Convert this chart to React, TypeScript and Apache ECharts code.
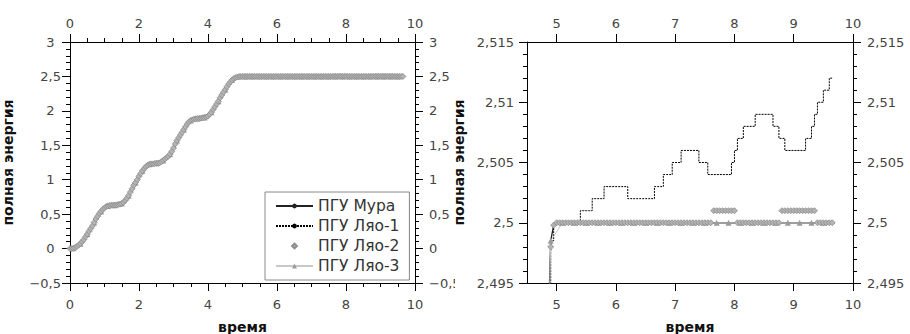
import React, { useEffect, useRef } from "react";
import * as echarts from "echarts";

// time grid (shared by Мура, Ляо-1, Ляо-2)
const time = [
  0, 0.05, 0.1, 0.15, 0.2, 0.25, 0.3, 0.35, 0.4, 0.45, 0.5, 0.55, 0.6, 0.65, 0.7, 0.75, 0.8, 0.85, 0.9, 0.95,
  1, 1.05, 1.1, 1.15, 1.2, 1.25, 1.3, 1.35, 1.4, 1.45, 1.5, 1.55, 1.6, 1.65, 1.7, 1.75, 1.8, 1.85, 1.9, 1.95,
  2, 2.05, 2.1, 2.15, 2.2, 2.25, 2.3, 2.35, 2.4, 2.45, 2.5, 2.55, 2.6, 2.65, 2.7, 2.75, 2.8, 2.85, 2.9, 2.95,
  3, 3.05, 3.1, 3.15, 3.2, 3.25, 3.3, 3.35, 3.4, 3.45, 3.5, 3.55, 3.6, 3.65, 3.7, 3.75, 3.8, 3.85, 3.9, 3.95,
  4, 4.05, 4.1, 4.15, 4.2, 4.25, 4.3, 4.35, 4.4, 4.45, 4.5, 4.55, 4.6, 4.65, 4.7, 4.75, 4.8, 4.85, 4.9, 4.95,
  5, 5.05, 5.1, 5.15, 5.2, 5.25, 5.3, 5.35, 5.4, 5.45, 5.5, 5.55, 5.6, 5.65, 5.7, 5.75, 5.8, 5.85, 5.9, 5.95,
  6, 6.05, 6.1, 6.15, 6.2, 6.25, 6.3, 6.35, 6.4, 6.45, 6.5, 6.55, 6.6, 6.65, 6.7, 6.75, 6.8, 6.85, 6.9, 6.95,
  7, 7.05, 7.1, 7.15, 7.2, 7.25, 7.3, 7.35, 7.4, 7.45, 7.5, 7.55, 7.6, 7.65, 7.7, 7.75, 7.8, 7.85, 7.9, 7.95,
  8, 8.05, 8.1, 8.15, 8.2, 8.25, 8.3, 8.35, 8.4, 8.45, 8.5, 8.55, 8.6, 8.65, 8.7, 8.75, 8.8, 8.85, 8.9, 8.95,
  9, 9.05, 9.1, 9.15, 9.2, 9.25, 9.3, 9.35, 9.4, 9.45, 9.5, 9.55, 9.6, 9.65,
];

// rising part (t = 0 … 4.95), common to all models
const rise = [
  0, 0, 0.005, 0.015, 0.03, 0.05, 0.07, 0.1, 0.13, 0.17, 0.21, 0.25, 0.29, 0.33, 0.38, 0.43, 0.47, 0.51, 0.54, 0.57,
  0.59, 0.61, 0.62, 0.625, 0.63, 0.63, 0.63, 0.635, 0.64, 0.645, 0.655, 0.67, 0.7, 0.73, 0.77, 0.82, 0.87, 0.92, 0.96, 1.0,
  1.05, 1.09, 1.13, 1.16, 1.19, 1.21, 1.225, 1.23, 1.23, 1.235, 1.24, 1.24, 1.245, 1.26, 1.28, 1.3, 1.32, 1.34, 1.37, 1.41,
  1.46, 1.52, 1.57, 1.61, 1.65, 1.69, 1.73, 1.77, 1.81, 1.84, 1.86, 1.87, 1.88, 1.885, 1.89, 1.89, 1.895, 1.9, 1.905, 1.91,
  1.925, 1.95, 1.98, 2.02, 2.06, 2.1, 2.14, 2.19, 2.23, 2.27, 2.31, 2.35, 2.39, 2.42, 2.45, 2.47, 2.482, 2.49, 2.4985, 2.4998,
];

// t = 5 … 9.65
const muraTail = [
  2.5, 2.5, 2.5, 2.5, 2.5, 2.5, 2.5, 2.5, 2.5, 2.5, 2.5, 2.5, 2.5, 2.5, 2.5, 2.5, 2.5, 2.5, 2.5, 2.5,
  2.5, 2.5, 2.5, 2.5, 2.5, 2.5, 2.5, 2.5, 2.5, 2.5, 2.5, 2.5, 2.5, 2.5, 2.5, 2.5, 2.5, 2.5, 2.5, 2.5,
  2.5, 2.5, 2.5, 2.5, 2.5, 2.5, 2.5, 2.5, 2.5, 2.5, 2.5, 2.5, 2.5, 2.5, 2.5, 2.5, 2.5, 2.5, 2.5, 2.5,
  2.5, 2.5, 2.5, 2.5, 2.5, 2.5, 2.5, 2.5, 2.5, 2.5, 2.5, 2.5, 2.5, 2.5, 2.5, 2.5, 2.5, 2.5, 2.5, 2.5,
  2.5, 2.5, 2.5, 2.5, 2.5, 2.5, 2.5, 2.5, 2.5, 2.5, 2.5, 2.5, 2.5, 2.5,
];
const lyao1Tail = [
  2.5, 2.5, 2.5, 2.5, 2.5, 2.5, 2.5, 2.5,
  2.501, 2.501, 2.501, 2.501,
  2.502, 2.502, 2.502, 2.502,
  2.503, 2.503, 2.503, 2.503, 2.503, 2.503, 2.503, 2.503,
  2.502, 2.502, 2.502, 2.502, 2.502, 2.502, 2.502, 2.502, 2.502,
  2.503, 2.503, 2.503,
  2.504, 2.504, 2.504,
  2.505, 2.505, 2.505,
  2.506, 2.506, 2.506, 2.506, 2.506, 2.506,
  2.505, 2.505, 2.505,
  2.504, 2.504, 2.504, 2.504, 2.504, 2.504, 2.504, 2.504,
  2.505,
  2.506,
  2.507, 2.507,
  2.508, 2.508, 2.508, 2.508,
  2.509, 2.509, 2.509, 2.509, 2.509, 2.509,
  2.508, 2.508,
  2.507, 2.507,
  2.506, 2.506, 2.506, 2.506, 2.506, 2.506, 2.506,
  2.507, 2.507,
  2.508,
  2.509,
  2.51, 2.51,
  2.511, 2.511,
  2.512, 2.512,
];
const lyao2Tail = [
  2.5, 2.5, 2.5, 2.5, 2.5, 2.5, 2.5, 2.5, 2.5, 2.5, 2.5, 2.5, 2.5, 2.5, 2.5, 2.5, 2.5, 2.5, 2.5, 2.5,
  2.5, 2.5, 2.5, 2.5, 2.5, 2.5, 2.5, 2.5, 2.5, 2.5, 2.5, 2.5, 2.5, 2.5, 2.5, 2.5, 2.5, 2.5, 2.5, 2.5,
  2.5, 2.5, 2.5, 2.5, 2.5, 2.5, 2.5, 2.5, 2.5, 2.5, 2.5, 2.5, 2.5,
  2.501, 2.501, 2.501, 2.501, 2.501, 2.501, 2.501, 2.501,
  2.5, 2.5, 2.5, 2.5, 2.5, 2.5, 2.5, 2.5, 2.5, 2.5, 2.5, 2.5, 2.5, 2.5, 2.5,
  2.501, 2.501, 2.501, 2.501, 2.501, 2.501, 2.501, 2.501, 2.501, 2.501, 2.501, 2.501,
  2.5, 2.5, 2.5, 2.5, 2.5, 2.5,
];
const lyao2Rise = [
  0, 0, 0.005, 0.015, 0.03, 0.05, 0.07, 0.1, 0.13, 0.17, 0.21, 0.25, 0.29, 0.33, 0.38, 0.43, 0.47, 0.51, 0.54, 0.57,
  0.59, 0.61, 0.62, 0.625, 0.63, 0.63, 0.63, 0.635, 0.64, 0.645, 0.655, 0.67, 0.7, 0.73, 0.77, 0.82, 0.87, 0.92, 0.96, 1.0,
  1.05, 1.09, 1.13, 1.16, 1.19, 1.21, 1.225, 1.23, 1.23, 1.235, 1.24, 1.24, 1.245, 1.26, 1.28, 1.3, 1.32, 1.34, 1.37, 1.41,
  1.46, 1.52, 1.57, 1.61, 1.65, 1.69, 1.73, 1.77, 1.81, 1.84, 1.86, 1.87, 1.88, 1.885, 1.89, 1.89, 1.895, 1.9, 1.905, 1.91,
  1.925, 1.95, 1.98, 2.02, 2.06, 2.1, 2.14, 2.19, 2.23, 2.27, 2.31, 2.35, 2.39, 2.42, 2.45, 2.47, 2.482, 2.49, 2.498, 2.4998,
];
const mura = [...rise, ...muraTail];
const lyao1 = [...rise, ...lyao1Tail];
const lyao2 = [...lyao2Rise, ...lyao2Tail];

// Ляо-3 has its own, coarser time grid
const time3 = [
  0.1, 0.3, 0.5, 0.7, 0.9, 1.1, 1.3, 1.5, 1.7, 1.9, 2.1, 2.3, 2.5, 2.7, 2.9, 3.1, 3.3, 3.5, 3.7, 3.9, 4.1, 4.3, 4.5, 4.7, 4.9,
  5.1, 5.3, 5.5, 5.7, 5.9, 6.1, 6.3, 6.5, 6.7, 6.9, 7.1, 7.3, 7.5, 7.7, 7.9, 8.1, 8.3, 8.5, 8.7, 8.9, 9.1, 9.3, 9.5,
];
const lyao3 = [
  0.005, 0.07, 0.21, 0.38, 0.54, 0.62, 0.63, 0.655, 0.77, 0.96, 1.13, 1.225, 1.24, 1.28, 1.37, 1.57, 1.73, 1.86, 1.89, 1.905, 1.98, 2.14, 2.31, 2.45, 2.4985,
  2.5, 2.5, 2.5, 2.5, 2.5, 2.5, 2.5, 2.5, 2.5, 2.5, 2.5, 2.5, 2.5, 2.5, 2.5, 2.5, 2.5, 2.5, 2.5, 2.5, 2.5, 2.5, 2.5,
];

const seriesNames = ["ПГУ Мура", "ПГУ Ляо-1", "ПГУ Ляо-2", "ПГУ Ляо-3"];
const xTitle = "время";
const yTitle = "полная энергия";

// right panel ticks
const rightXLabels = [5, 6, 7, 8, 9, 10];
const RIGHT_Y_MIN = 2.495;
const RIGHT_Y_MAX = 2.515;

const FONT = "DejaVu Sans";
const LABEL_COLOR = "#444";
const INK = "#000";

function fmt(v: number): string {
  let s = String(+v.toFixed(4)).replace(".", ",");
  if (v < 0) s = "\u2212" + s.slice(1);
  return s;
}
function fmtLeft(v: number): string {
  const s = fmt(v);
  return Number.isInteger(+v.toFixed(4)) ? s + "\u2002" : s;
}

const mkLine = () => ({ show: true, onZero: false, lineStyle: { color: INK, width: 1 } });
const mkTick = (len: number, custom?: number[]) => {
  const t: any = { show: true, length: len, lineStyle: { color: INK, width: 1 } };
  if (custom) t.customValues = custom;
  return t;
};
const mkMinor = (n: number) => ({ show: true, splitNumber: n, length: 4, lineStyle: { color: INK, width: 1 } });
const mkLabel = (margin: number, f: (v: number) => string = fmt, custom?: number[]) => {
  const l: any = { fontFamily: FONT, fontSize: 13, color: LABEL_COLOR, margin, formatter: f };
  if (custom) l.customValues = custom;
  return l;
};
const mkName = () => ({ fontFamily: FONT, fontSize: 14, fontWeight: "bold", color: "#111" });

const pairs = (xs: number[], ys: number[]) => xs.map((x, i) => [x, ys[i]]);

const mkSeries = () => [
  {
    name: seriesNames[0], type: "line", data: pairs(time, mura),
    symbol: "none", lineStyle: { color: "#222", width: 1.3 }, itemStyle: { color: "#222" },
  },
  {
    name: seriesNames[1], type: "line", data: pairs(time, lyao1), step: "end",
    symbol: "none", lineStyle: { color: "#000", width: 1, type: [2, 1] }, itemStyle: { color: "#000" },
  },
  {
    name: seriesNames[3], type: "line", data: pairs(time3, lyao3),
    symbol: "triangle", symbolSize: 6, lineStyle: { color: "#c8c8c8", width: 1 },
    itemStyle: { color: "#9a9a9a" },
  },
  {
    name: seriesNames[2], type: "line", data: pairs(time, lyao2),
    symbol: "diamond", symbolSize: 6, lineStyle: { color: "#b4b4b4", width: 0 },
    itemStyle: { color: "#b4b4b4", borderColor: "#8c8c8c", borderWidth: 0.8 },
  },
];

function leftOption(): any {
  return {
    animation: false,
    grid: { left: 70, top: 42, width: 345, height: 241, outerBoundsMode: "none" },
    legend: {
      data: seriesNames,
      orient: "vertical",
      left: 265,
      top: 192,
      itemWidth: 37,
      itemHeight: 6,
      itemGap: 4,
      padding: [6, 10, 6, 10],
      borderColor: "#888",
      borderWidth: 1,
      textStyle: { fontFamily: FONT, fontSize: 15.5, color: "#333" },
    },
    xAxis: [
      {
        type: "value", position: "bottom", min: 0, max: 10, interval: 2,
        axisLine: mkLine(), axisTick: mkTick(8), minorTick: mkMinor(4), splitLine: { show: false },
        axisLabel: mkLabel(15),
        name: xTitle, nameLocation: "middle", nameGap: 37, nameTextStyle: mkName(),
      },
      {
        type: "value", position: "top", min: 0, max: 10, interval: 2,
        axisLine: mkLine(), axisTick: mkTick(8), minorTick: mkMinor(4), splitLine: { show: false },
        axisLabel: mkLabel(12),
      },
    ],
    yAxis: [
      {
        type: "value", position: "left", min: -0.5, max: 3, interval: 0.5,
        axisLine: mkLine(), axisTick: mkTick(8), minorTick: mkMinor(5), splitLine: { show: false },
        axisLabel: mkLabel(9, fmtLeft),
        name: yTitle, nameLocation: "middle", nameGap: 55, nameTextStyle: mkName(),
      },
      {
        type: "value", position: "right", min: -0.5, max: 3, interval: 0.5,
        axisLine: mkLine(), axisTick: mkTick(8), minorTick: mkMinor(5), splitLine: { show: false },
        axisLabel: mkLabel(14),
      },
    ],
    series: mkSeries(),
  };
}

function rightOption(): any {
  return {
    animation: false,
    grid: { left: 72, top: 42, width: 326, height: 241, outerBoundsMode: "none" },
    xAxis: [
      {
        type: "value", position: "bottom", min: 4.5, max: 10,
        axisLine: mkLine(), axisTick: mkTick(8, rightXLabels), splitLine: { show: false },
        axisLabel: mkLabel(15, fmt, rightXLabels),
        name: xTitle, nameLocation: "middle", nameGap: 37, nameTextStyle: mkName(),
      },
      {
        type: "value", position: "top", min: 4.5, max: 10,
        axisLine: mkLine(), axisTick: mkTick(8, rightXLabels), splitLine: { show: false },
        axisLabel: mkLabel(12, fmt, rightXLabels),
      },
    ],
    yAxis: [
      {
        type: "value", position: "left", min: RIGHT_Y_MIN, max: RIGHT_Y_MAX, interval: 0.005,
        axisLine: mkLine(), axisTick: mkTick(8), minorTick: mkMinor(5), splitLine: { show: false },
        axisLabel: mkLabel(13),
        name: yTitle, nameLocation: "middle", nameGap: 57, nameTextStyle: mkName(),
      },
      {
        type: "value", position: "right", min: RIGHT_Y_MIN, max: RIGHT_Y_MAX, interval: 0.005,
        axisLine: mkLine(), axisTick: mkTick(8), minorTick: mkMinor(5), splitLine: { show: false },
        axisLabel: mkLabel(14),
      },
    ],
    series: mkSeries(),
  };
}

export default function App() {
  const leftRef = useRef<HTMLDivElement>(null);
  const rightRef = useRef<HTMLDivElement>(null);
  useEffect(() => {
    if (!leftRef.current || !rightRef.current) return;
    const a = echarts.init(leftRef.current, undefined, { renderer: "svg" });
    const b = echarts.init(rightRef.current, undefined, { renderer: "svg" });
    a.setOption(leftOption());
    b.setOption(rightOption());
    return () => {
      a.dispose();
      b.dispose();
    };
  }, []);
  return (
    <div style={{ position: "fixed", left: 0, top: 0, width: 910, height: 334, background: "#fff" }}>
      <div ref={leftRef} style={{ position: "absolute", left: 0, top: 0, width: 455, height: 334 }} />
      <div ref={rightRef} style={{ position: "absolute", left: 455, top: 0, width: 455, height: 334 }} />
    </div>
  );
}
